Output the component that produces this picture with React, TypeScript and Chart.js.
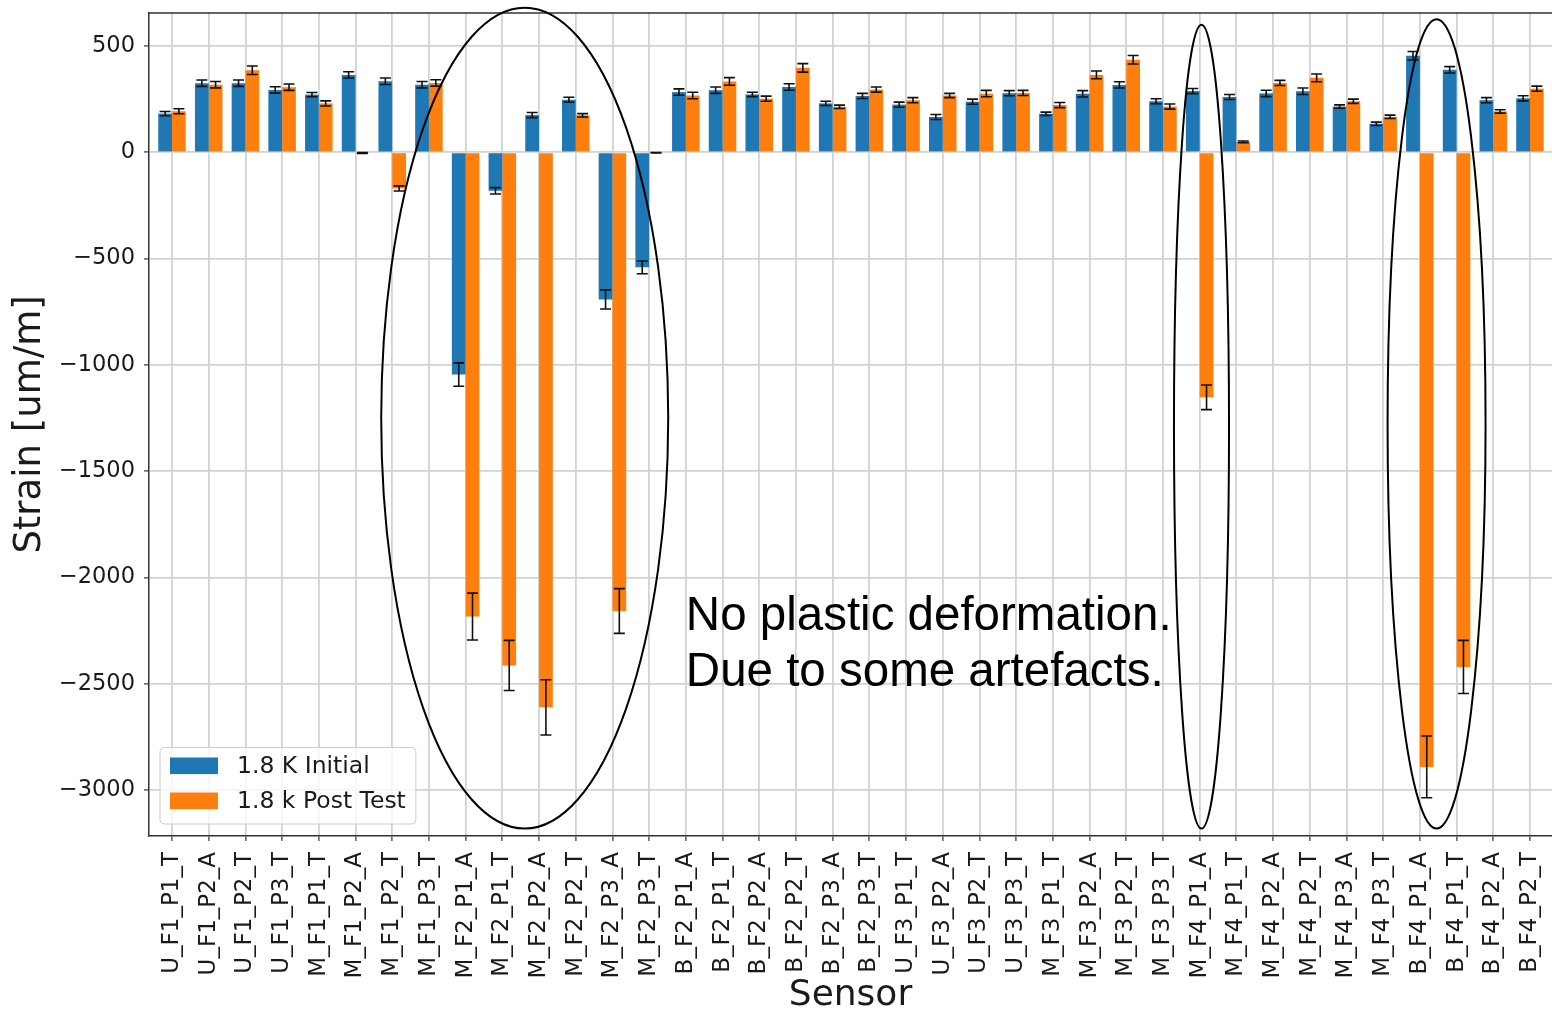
import { useEffect, useRef } from "react";
import { Chart, registerables } from "chart.js";

Chart.register(...registerables);

// Sensor names along the x axis
const sensors = [
  "U_F1_P1_T", "U_F1_P2_A", "U_F1_P2_T", "U_F1_P3_T",
  "M_F1_P1_T", "M_F1_P2_A", "M_F1_P2_T", "M_F1_P3_T",
  "M_F2_P1_A", "M_F2_P1_T", "M_F2_P2_A", "M_F2_P2_T", "M_F2_P3_A", "M_F2_P3_T",
  "B_F2_P1_A", "B_F2_P1_T", "B_F2_P2_A", "B_F2_P2_T", "B_F2_P3_A", "B_F2_P3_T",
  "U_F3_P1_T", "U_F3_P2_A", "U_F3_P2_T", "U_F3_P3_T",
  "M_F3_P1_T", "M_F3_P2_A", "M_F3_P2_T", "M_F3_P3_T",
  "M_F4_P1_A", "M_F4_P1_T", "M_F4_P2_A", "M_F4_P2_T", "M_F4_P3_A", "M_F4_P3_T",
  "B_F4_P1_A", "B_F4_P1_T", "B_F4_P2_A", "B_F4_P2_T",
];

// Strain at 1.8 K, initial cool-down [um/m]
const initialStrain = [
  182, 325, 325, 293,
  271, 364, 334, 318,
  -1045, -181, 175, 247, -692, -541,
  283, 292, 272, 307, 230, 265,
  224, 166, 238, 278,
  181, 275, 317, 240,
  288, 260, 277, 287, 215, 134,
  454, 388, 245, 254,
];
const initialErr = [
  10, 15, 15, 15,
  10, 15, 15, 15,
  55, 15, 12, 12, 45, 30,
  15, 15, 10, 15, 10, 12,
  12, 12, 12, 12,
  8, 15, 15, 12,
  12, 12, 15, 15, 8, 8,
  20, 15, 12, 12,
];

// Strain at 1.8 K after the test [um/m]
const postStrain = [
  193, 318, 386, 306,
  230, -3, -170, 326,
  -2183, -2413, -2610, 174, -2157, -2,
  267, 333, 252, 397, 214, 295,
  245, 267, 276, 279,
  222, 364, 435, 215,
  -1152, 49, 326, 350, 240, 167,
  -2890, -2420, 192, 299,
];
const postErr = [
  12, 15, 20, 15,
  12, 2, 12, 15,
  110, 118, 130, 8, 105, 1,
  15, 18, 12, 20, 8, 12,
  12, 10, 15, 12,
  12, 18, 20, 12,
  58, 4, 12, 18, 10, 8,
  145, 125, 8, 12,
];

const yTicks = [500, 0, -500, -1000, -1500, -2000, -2500, -3000];
const seriesLabels = ["1.8 K Initial", "1.8 k Post Test"];
const seriesColors = ["#1f77b4", "#ff7f0e"];

// Free-text note, anchored at a sensor index and strain baselines
const noteLines = ["No plastic deformation.", "Due to some artefacts."];
const noteX = 14;
const noteY = [-2248, -2512];

// Highlight ellipses (centre index, centre strain, half-width in sensors, half-height in strain)
const ringCx = [9.61, 28.05, 34.455];
const ringCy = [-1250, -1290, -1277];
const ringRx = [3.91, 0.75, 1.335];
const ringRy = [1930, 1890, 1903];

const FAMILY = "'DejaVu Sans', sans-serif";
const TEXT = "#1a1a1a";
const GRID = "#d2d2d2";
const SPINE = "#333333";

const errorBars = {
  id: "errorBars",
  afterDatasetsDraw(chart: any) {
    const { ctx } = chart;
    const ys = chart.scales.y;
    const errs = [initialErr, postErr];
    const cap = 5.5;
    ctx.save();
    ctx.strokeStyle = "#111111";
    ctx.lineWidth = 1.6;
    chart.data.datasets.forEach((ds: any, d: number) => {
      const meta = chart.getDatasetMeta(d);
      meta.data.forEach((el: any, i: number) => {
        const v = ds.data[i].y;
        const e = errs[d][i];
        const x = el.x;
        const y1 = ys.getPixelForValue(v + e);
        const y2 = ys.getPixelForValue(v - e);
        ctx.beginPath();
        ctx.moveTo(x, y1);
        ctx.lineTo(x, y2);
        ctx.moveTo(x - cap, y1);
        ctx.lineTo(x + cap, y1);
        ctx.moveTo(x - cap, y2);
        ctx.lineTo(x + cap, y2);
        ctx.stroke();
      });
    });
    ctx.restore();
  },
};

const overlay = {
  id: "overlay",
  afterDraw(chart: any) {
    const { ctx, chartArea } = chart;
    const xs = chart.scales.x;
    const ys = chart.scales.y;
    ctx.save();

    // top spine
    ctx.strokeStyle = SPINE;
    ctx.lineWidth = 1.5;
    ctx.beginPath();
    ctx.moveTo(chartArea.left, chartArea.top);
    ctx.lineTo(chartArea.right, chartArea.top);
    ctx.stroke();

    // legend box, lower left inside the axes
    ctx.font = `23.5px ${FAMILY}`;
    const textW = Math.max(...seriesLabels.map((t) => ctx.measureText(t).width));
    const bx = chartArea.left + 11;
    const bw = 10 + 48 + 19 + textW + 10;
    const bh = 76.5;
    const by = chartArea.bottom - 12 - bh;
    const r = 4;
    ctx.beginPath();
    ctx.moveTo(bx + r, by);
    ctx.lineTo(bx + bw - r, by);
    ctx.arcTo(bx + bw, by, bx + bw, by + r, r);
    ctx.lineTo(bx + bw, by + bh - r);
    ctx.arcTo(bx + bw, by + bh, bx + bw - r, by + bh, r);
    ctx.lineTo(bx + r, by + bh);
    ctx.arcTo(bx, by + bh, bx, by + bh - r, r);
    ctx.lineTo(bx, by + r);
    ctx.arcTo(bx, by, bx + r, by, r);
    ctx.closePath();
    ctx.fillStyle = "rgba(255,255,255,0.8)";
    ctx.fill();
    ctx.strokeStyle = "#cccccc";
    ctx.lineWidth = 1;
    ctx.stroke();
    seriesLabels.forEach((label, k) => {
      const cy = by + 18.3 + k * 35;
      ctx.fillStyle = seriesColors[k];
      ctx.fillRect(bx + 10, cy - 8.3, 48, 16.6);
      ctx.fillStyle = TEXT;
      ctx.textAlign = "left";
      ctx.textBaseline = "middle";
      ctx.fillText(label, bx + 10 + 48 + 19, cy + 1);
    });

    // highlight ellipses
    ctx.strokeStyle = "#000000";
    ctx.lineWidth = 2;
    ringCx.forEach((cx, k) => {
      const px = xs.getPixelForValue(cx);
      const py = ys.getPixelForValue(ringCy[k]);
      const rx = Math.abs(xs.getPixelForValue(cx + ringRx[k]) - px);
      const ry = Math.abs(ys.getPixelForValue(ringCy[k] + ringRy[k]) - py);
      ctx.beginPath();
      ctx.ellipse(px, py, rx, ry, 0, 0, Math.PI * 2);
      ctx.stroke();
    });

    // note text
    ctx.fillStyle = "#000000";
    ctx.font = "47.5px 'Liberation Sans', Arial, sans-serif";
    ctx.textAlign = "left";
    ctx.textBaseline = "alphabetic";
    noteLines.forEach((line, k) => {
      ctx.fillText(line, xs.getPixelForValue(noteX), ys.getPixelForValue(noteY[k]));
    });

    ctx.restore();
  },
};

export default function App() {
  const canvasRef = useRef<HTMLCanvasElement>(null);

  useEffect(() => {
    const canvas = canvasRef.current;
    if (!canvas) return;
    const chart = new Chart(canvas, {
      type: "bar",
      data: {
        datasets: [
          {
            label: seriesLabels[0],
            data: initialStrain.map((v, i) => ({ x: i, y: v })),
            backgroundColor: seriesColors[0],
            borderWidth: 0,
          },
          {
            label: seriesLabels[1],
            data: postStrain.map((v, i) => ({ x: i, y: v })),
            backgroundColor: seriesColors[1],
            borderWidth: 0,
          },
        ],
      },
      options: {
        responsive: false,
        animation: false,
        devicePixelRatio: 1,
        layout: { padding: { top: 13, right: 0, bottom: 0, left: 0 } },
        datasets: { bar: { categoryPercentage: 0.75, barPercentage: 1 } },
        plugins: { legend: { display: false }, tooltip: { enabled: false } },
        scales: {
          x: {
            type: "linear",
            offset: false,
            min: -0.627,
            max: 37.6,
            afterBuildTicks: (s: any) => {
              s.ticks = sensors.map((_, i) => ({ value: i }));
            },
            afterFit: (s: any) => {
              s.height = 178;
              s.paddingLeft = 0;
              s.paddingRight = 0;
            },
            ticks: {
              autoSkip: false,
              minRotation: 90,
              maxRotation: 90,
              padding: 11,
              color: TEXT,
              font: { family: FAMILY, size: 23 },
              callback: (_v: any, i: number) => sensors[i],
            },
            grid: { offset: false, color: GRID, lineWidth: 1.8, tickColor: SPINE, tickLength: 5, tickWidth: 1.2 },
            border: { display: true, color: SPINE, width: 1.5 },
            title: {
              display: true,
              text: "Sensor",
              color: TEXT,
              font: { family: FAMILY, size: 36, lineHeight: 1 },
              padding: 0,
            },
          },
          y: {
            type: "linear",
            min: -3215,
            max: 655,
            afterBuildTicks: (s: any) => {
              s.ticks = yTicks.map((v) => ({ value: v }));
            },
            afterFit: (s: any) => {
              s.width = 149;
              s.paddingTop = 0;
              s.paddingBottom = 0;
            },
            ticks: {
              padding: 9,
              color: TEXT,
              font: { family: FAMILY, size: 22.5 },
              callback: (v: any) => (v < 0 ? "\u2212" + Math.abs(v) : String(v)),
            },
            grid: { color: GRID, lineWidth: 1.8, tickColor: SPINE, tickLength: 5, tickWidth: 1.2 },
            border: { display: true, color: SPINE, width: 1.5 },
            title: {
              display: true,
              text: "Strain [um/m]",
              color: TEXT,
              font: { family: FAMILY, size: 37, lineHeight: 1 },
              padding: { top: 11.5, bottom: 0 },
            },
          },
        },
      } as any,
      plugins: [errorBars, overlay],
    });
    return () => chart.destroy();
  }, []);

  return (
    <div style={{ position: "absolute", left: 0, top: 0, width: 1552, height: 1014, background: "#ffffff" }}>
      <canvas ref={canvasRef} width={1552} height={1014} style={{ width: 1552, height: 1014, display: "block" }} />
    </div>
  );
}
